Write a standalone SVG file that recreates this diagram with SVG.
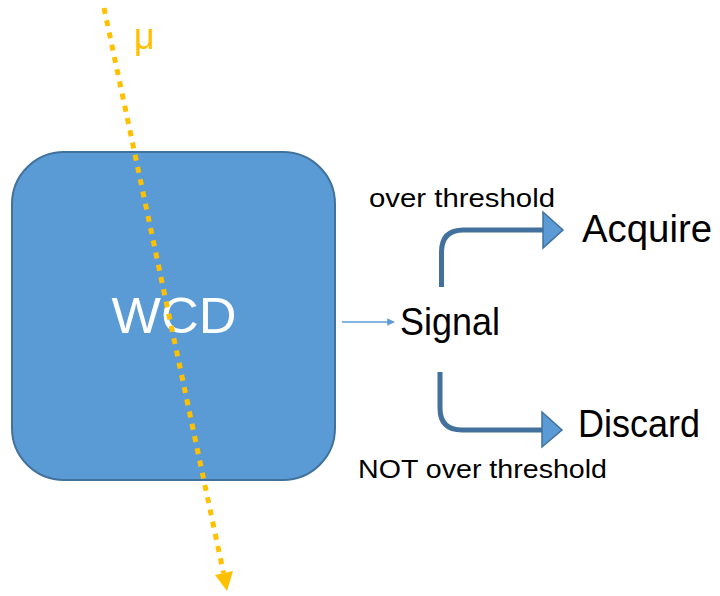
<svg xmlns="http://www.w3.org/2000/svg" width="720" height="596" viewBox="0 0 720 596">
<style>
  .lbl { font-family: "Liberation Sans", Arial, sans-serif; fill: #000; }
  .elbow { fill: none; stroke: #41719C; stroke-width: 5; }
  .head { fill: #5B9BD5; stroke: #41719C; stroke-width: 1.5; stroke-linejoin: miter; }
</style>
<defs>
  <marker id="thin" viewBox="0 0 10 10" refX="9" refY="5" markerWidth="5" markerHeight="5" orient="auto" markerUnits="strokeWidth">
    <path d="M0,0 L10,5 L0,10 z" fill="#5B9BD5"/>
  </marker>
</defs>
<rect width="720" height="596" fill="#fff"/>
<g id="wcd">
  <rect x="12" y="152" width="323" height="328" rx="52" ry="52" fill="#5B9BD5" stroke="#41719C" stroke-width="2"/>
  <text class="lbl" x="174" y="333" font-size="50" text-anchor="middle" style="fill:#fff" textLength="125" lengthAdjust="spacingAndGlyphs">WCD</text>
</g>
<g id="signal">
  <text class="lbl" x="400" y="335" font-size="39" textLength="100" lengthAdjust="spacingAndGlyphs">Signal</text>
</g>
<g id="acquire">
  <text class="lbl" x="582" y="242" font-size="38" textLength="130" lengthAdjust="spacingAndGlyphs">Acquire</text>
</g>
<g id="discard">
  <text class="lbl" x="578" y="437" font-size="38" textLength="122" lengthAdjust="spacingAndGlyphs">Discard</text>
</g>
<g id="muon">
  <text class="lbl" x="134" y="49" font-size="36" style="fill:#FFC000">μ</text>
</g>
<g id="connectors">
  <line x1="342" y1="322" x2="394" y2="322" stroke="#5B9BD5" stroke-width="1.5" marker-end="url(#thin)"/>
  <path class="elbow" d="M441.5,287 V252 Q441.5,230 463.5,230 H545"/>
  <polygon class="head" points="543,212 563,230 543,248"/>
  <path class="elbow" d="M440,372 V408 Q440,430 462,430 H543"/>
  <polygon class="head" points="542,412 562,430 542,447"/>
  <text class="lbl" x="369" y="207" font-size="26" textLength="186" lengthAdjust="spacingAndGlyphs">over threshold</text>
  <text class="lbl" x="358" y="478" font-size="26" textLength="249" lengthAdjust="spacingAndGlyphs">NOT over threshold</text>
  <line x1="104" y1="8" x2="223.5" y2="573" stroke="#FFC000" stroke-width="5" stroke-dasharray="6 6.5"/>
  <polygon points="215,575 233,571 227,591" fill="#FFC000"/>
</g>
</svg>
